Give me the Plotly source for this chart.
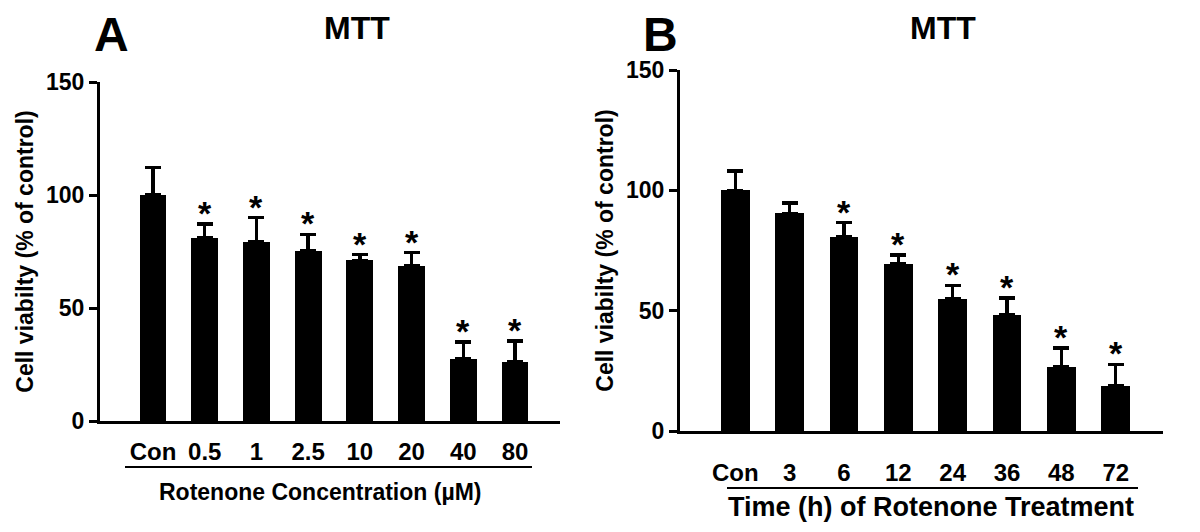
import plotly.graph_objects as go

# ---- data ----
a_categories = ["Con", "0.5", "1", "2.5", "10", "20", "40", "80"]
a_values = [100, 81, 79.2, 75.2, 71.1, 68.6, 27.6, 26.3]
a_errors = [12.2, 6.2, 10.8, 7.4, 2.5, 5.9, 7.4, 9.1]
a_signif = [False, True, True, True, True, True, True, True]

b_categories = ["Con", "3", "6", "12", "24", "36", "48", "72"]
b_values = [100, 90.4, 80.8, 69.3, 54.9, 48.2, 26.5, 18.6]
b_errors = [8.1, 4.4, 5.8, 3.9, 5.6, 7.0, 8.0, 9.1]
b_signif = [False, False, True, True, True, True, True, True]

y_ticks = [0, 50, 100, 150]

FONT = "Liberation Sans"
W, H = 1200, 532

fig = go.Figure()

def add_panel(idx, cats, vals, errs, sig, bar_width):
    xa = "x" if idx == 1 else "x2"
    ya = "y" if idx == 1 else "y2"
    xs = list(range(len(cats)))
    fig.add_trace(go.Bar(
        x=xs, y=vals, width=bar_width, marker=dict(color="black", line=dict(width=0)),
        error_y=dict(type="data", array=errs, arrayminus=[0] * len(errs), symmetric=False,
                     color="black", thickness=3.5, width=8),
        xaxis=xa, yaxis=ya, showlegend=False, hoverinfo="skip"))
    for x, v, e, s in zip(xs, vals, errs, sig):
        if s:
            fig.add_annotation(x=x, y=v + e, xref=xa, yref=ya, text="*", showarrow=False,
                               yanchor="middle", yshift=11,
                               font=dict(family=FONT, size=34, color="black", weight="bold"))

add_panel(1, a_categories, a_values, a_errors, a_signif, 0.52)
add_panel(2, b_categories, b_values, b_errors, b_signif, 0.53)

def yaxis_cfg(domain, anchor):
    return dict(domain=domain, range=[0, 150], tickvals=y_ticks, showline=True, linewidth=3,
                linecolor="black", ticks="outside", ticklen=8, tickwidth=3, tickcolor="black",
                showgrid=False, zeroline=False, automargin=False, anchor=anchor,
                tickfont=dict(family=FONT, size=23, color="black", weight="bold"),
                title=dict(text="Cell viabilty (% of control)",
                           font=dict(family=FONT, size=23, color="black", weight="bold"),
                           standoff=6))

def xaxis_cfg(domain, cats, rng, anchor, ticklen):
    return dict(domain=domain, range=rng, tickvals=list(range(len(cats))), ticktext=cats,
                showline=True, linewidth=3, linecolor="black", ticks="outside", ticklen=ticklen,
                tickcolor="rgba(0,0,0,0)", showgrid=False, zeroline=False, anchor=anchor,
                automargin=False,
                tickfont=dict(family=FONT, size=24, color="black", weight="bold"))

fig.update_layout(
    width=W, height=H, autosize=False, margin=dict(l=0, r=0, t=0, b=0, pad=0),
    paper_bgcolor="white", plot_bgcolor="white", bargap=0, showlegend=False,
    xaxis=xaxis_cfg([100 / W, 560 / W], a_categories, [-1.025, 7.87], "y", 7),
    yaxis=yaxis_cfg([1 - 421 / H, 1 - 82 / H], "x"),
    xaxis2=xaxis_cfg([680 / W, 1163 / W], b_categories, [-1.017, 7.87], "y2", 18),
    yaxis2=yaxis_cfg([1 - 431 / H, 1 - 70 / H], "x2"),
)

# underlines below tick labels
fig.add_shape(type="line", xref="paper", yref="paper", x0=125 / W, x1=532 / W,
              y0=1 - 467 / H, y1=1 - 467 / H, line=dict(color="black", width=2))
fig.add_shape(type="line", xref="paper", yref="paper", x0=727 / W, x1=1138 / W,
              y0=1 - 488 / H, y1=1 - 488 / H, line=dict(color="black", width=2))

def ann(text, x, y, size, xanchor="center"):
    fig.add_annotation(text=text, x=x / W, y=1 - y / H, xref="paper", yref="paper",
                       showarrow=False, xanchor=xanchor, yanchor="middle",
                       font=dict(family=FONT, size=size, color="black", weight="bold"))

ann("Rotenone Concentration (µM)", 320, 492, 23)
ann("Time (h) of Rotenone Treatment", 931, 507, 27)
ann("A", 111, 34, 48)
ann("B", 660, 35, 48)
ann("MTT", 357, 28, 32)
ann("MTT", 943, 28, 32)

fig.write_html("out.html", config={"displayModeBar": False},
               post_script="document.body.style.margin='0';document.body.style.padding='0';")
